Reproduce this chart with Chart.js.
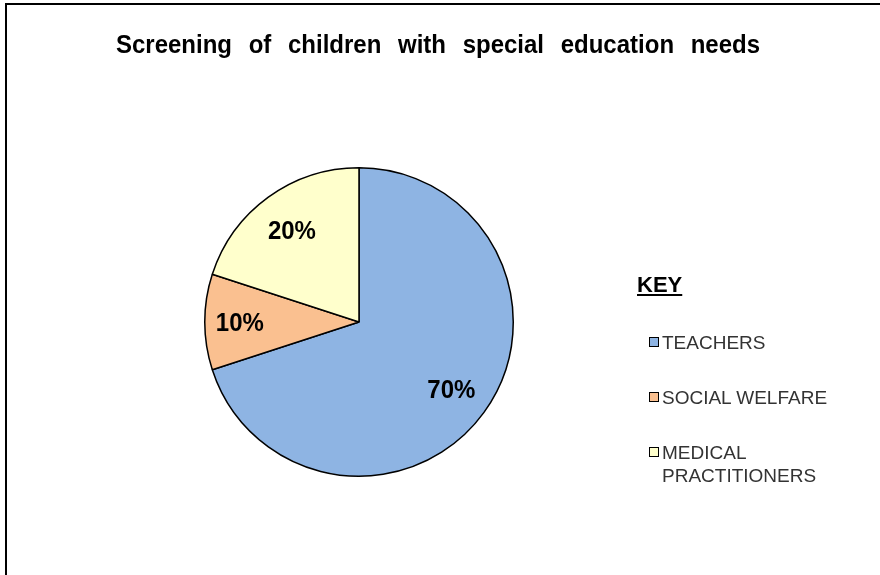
<!DOCTYPE html>
<html>
<head>
<meta charset="utf-8">
<script src="https://cdn.jsdelivr.net/npm/chart.js@4/dist/chart.umd.min.js"></script>
<style>
    html, body { margin: 0; padding: 0; background: #fff; }
    body { width: 880px; height: 575px; position: relative; overflow: hidden; font-family: "Liberation Sans", Arial, sans-serif; }
    #frame { position: absolute; left: 5px; top: 3px; width: 900px; height: 600px; border-left: 2px solid #000; border-top: 2px solid #000; }
    #chart { position: absolute; left: 0; top: 0; }
    #keyTitle { position: absolute; left: 637px; top: 272px; font-size: 22px; font-weight: bold; text-decoration: underline; color: #000; line-height: 26px; }
    .key-item { position: absolute; left: 649px; display: flex; align-items: flex-start; font-size: 19px; line-height: 23px; color: #333; }
    .key-box { width: 8px; height: 8px; border: 1.5px solid #000; margin-top: 6px; margin-right: 3px; }
    .key-text { width: 185px; }
</style>
</head>
<body>
<div id="frame"></div>
<canvas id="chart" width="880" height="575"></canvas>
<div id="keyTitle">KEY</div>
<div id="key"></div>

<script>
// Who screens children with special education needs (share of cases, %)
const categories = ['TEACHERS', 'SOCIAL WELFARE', 'MEDICAL PRACTITIONERS'];
const shares = [70, 10, 20];
const sliceColors = ['#8EB4E3', '#FAC090', '#FFFFCC'];
const chartTitle = 'Screening of children with special education needs';

// Percent labels inside each slice (text a little taller than wide)
const sliceLabels = {
    id: 'sliceLabels',
    afterDatasetsDraw(chart) {
        const { ctx } = chart;
        const meta = chart.getDatasetMeta(0);
        meta.data.forEach((arc, i) => {
            const mid = (arc.startAngle + arc.endAngle) / 2;
            const r = arc.outerRadius * 0.74;
            const x = arc.x + Math.cos(mid) * r;
            const y = arc.y + Math.sin(mid) * r + 2;
            ctx.save();
            ctx.translate(x, y);
            ctx.scale(1, 1.1);
            ctx.font = 'bold 24px "Liberation Sans", Arial, sans-serif';
            ctx.fillStyle = '#000';
            ctx.textAlign = 'center';
            ctx.textBaseline = 'middle';
            ctx.fillText(`${shares[i]}%`, i === 1 ? -5 : 0, 0);
            ctx.restore();
        });
    }
};

// Title drawn centred over the page
const pageTitle = {
    id: 'pageTitle',
    afterDraw(chart) {
        const { ctx } = chart;
        ctx.save();
        ctx.translate(438, 53);
        ctx.scale(1, 1.05);
        ctx.font = 'bold 24px "Liberation Sans", Arial, sans-serif';
        ctx.wordSpacing = '10px';
        ctx.fillStyle = '#000';
        ctx.textAlign = 'center';
        ctx.textBaseline = 'alphabetic';
        ctx.fillText(chartTitle, 0, 0);
        ctx.restore();
    }
};

new Chart(document.getElementById('chart'), {
    type: 'pie',
    data: {
        labels: categories,
        datasets: [{
            data: shares,
            backgroundColor: sliceColors,
            borderColor: '#000',
            borderWidth: 1.5,
            borderAlign: 'center'
        }]
    },
    options: {
        responsive: false,
        animation: false,
        layout: {
            padding: { left: 204, right: 366, top: 167, bottom: 98 }
        },
        plugins: {
            legend: { display: false },
            tooltip: { enabled: false }
        }
    },
    plugins: [sliceLabels, pageTitle]
});

// Key on the right, one entry per category
const key = document.getElementById('key');
categories.forEach((name, i) => {
    const item = document.createElement('div');
    item.className = 'key-item';
    item.style.top = `${331 + i * 55}px`;
    item.innerHTML = `<div class="key-box" style="background:${sliceColors[i]}"></div><div class="key-text">${name}</div>`;
    key.appendChild(item);
});
</script>
</body>
</html>
